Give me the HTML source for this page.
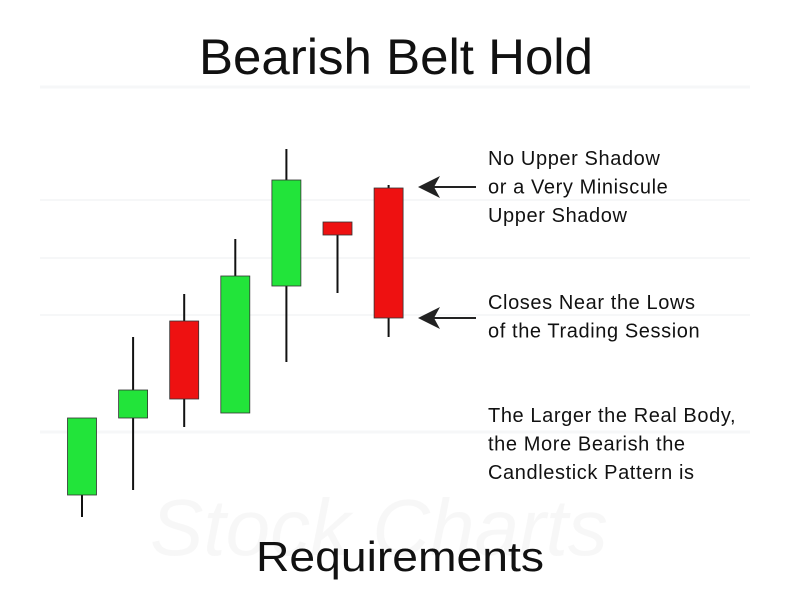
<!DOCTYPE html>
<html><head><meta charset="utf-8"><style>
body{margin:0;background:#fff;}
svg{display:block;font-family:"Liberation Sans","DejaVu Sans",sans-serif;}
</style></head><body>
<svg id="chart" width="792" height="612" viewBox="0 0 792 612">
  <g opacity="0.5">
    <line x1="40" y1="87" x2="750" y2="87" stroke="#eef0f3" stroke-width="3"/>
    <line x1="40" y1="200" x2="750" y2="200" stroke="#eef0f3" stroke-width="2"/>
    <line x1="40" y1="258" x2="750" y2="258" stroke="#eef0f3" stroke-width="2"/>
    <line x1="40" y1="315" x2="750" y2="315" stroke="#eef0f3" stroke-width="2"/>
    <line x1="40" y1="432" x2="750" y2="432" stroke="#eef0f3" stroke-width="3"/>
    <text x="150" y="555" font-size="80" fill="#f1f1f1" font-style="italic">Stock Charts</text>
  </g>
  <text x="396" y="74" font-size="50" textLength="394" lengthAdjust="spacingAndGlyphs" text-anchor="middle" fill="#111">Bearish Belt Hold</text>
  <text x="400" y="571" font-size="42" textLength="288" lengthAdjust="spacingAndGlyphs" text-anchor="middle" fill="#111">Requirements</text>
  <g id="candles"></g>
  <g font-size="20" fill="#111" letter-spacing="0.6">
    <text x="488" y="165"><tspan x="488">No Upper Shadow</tspan><tspan x="488" dy="28.5">or a Very Miniscule</tspan><tspan x="488" dy="28.5">Upper Shadow</tspan></text>
    <text x="488" y="309"><tspan x="488">Closes Near the Lows</tspan><tspan x="488" dy="28.5">of the Trading Session</tspan></text>
    <text x="488" y="422"><tspan x="488">The Larger the Real Body,</tspan><tspan x="488" dy="28.5">the More Bearish the</tspan><tspan x="488" dy="28.5">Candlestick Pattern is</tspan></text>
  </g>
  <g>
    <line x1="476" y1="187" x2="425" y2="187" stroke="#222" stroke-width="2"/>
    <path d="M418,187 L440,176 L434,187 L440,198 Z" fill="#222"/>
  </g>
  <g>
    <line x1="476" y1="318" x2="425" y2="318" stroke="#222" stroke-width="2"/>
    <path d="M418,318 L440,307 L434,318 L440,329 Z" fill="#222"/>
  </g>
</svg>
<script>
// price units: y = 612 - value
const categories = ["d1","d2","d3","d4","d5","d6","d7"];
const opens  = [117, 194, 291, 199, 326, 390, 424];
const closes = [194, 222, 213, 336, 432, 377, 294];
const highs  = [194, 275, 318, 373, 463, 390, 427];
const lows   = [95, 122, 185, 199, 250, 319, 275];
const xCenter = i => 82 + i * 51.1;
const yScale = v => 612 - v;
const g = document.getElementById('candles');
const NS = 'http://www.w3.org/2000/svg';
categories.forEach((c, i) => {
  const x = xCenter(i);
  const up = closes[i] >= opens[i];
  const wick = document.createElementNS(NS, 'line');
  
  
  wick.setAttribute('x1', x); wick.setAttribute('x2', x);
  wick.setAttribute('y1', yScale(highs[i])); wick.setAttribute('y2', yScale(lows[i]));
  wick.setAttribute('stroke', '#111'); wick.setAttribute('stroke-width', '2');
  g.appendChild(wick);
  const top = yScale(Math.max(opens[i], closes[i]));
  const bot = yScale(Math.min(opens[i], closes[i]));
  const body = document.createElementNS(NS, 'rect');
  
  
  body.setAttribute('x', x - 14.5); body.setAttribute('width', 29);
  body.setAttribute('y', top); body.setAttribute('height', Math.max(bot - top, 1));
  body.setAttribute('fill', up ? '#22e43a' : '#ee1111');
  body.setAttribute('stroke', '#333'); body.setAttribute('stroke-width', '0.8');
  g.appendChild(body);
});
</script>
</body></html>
